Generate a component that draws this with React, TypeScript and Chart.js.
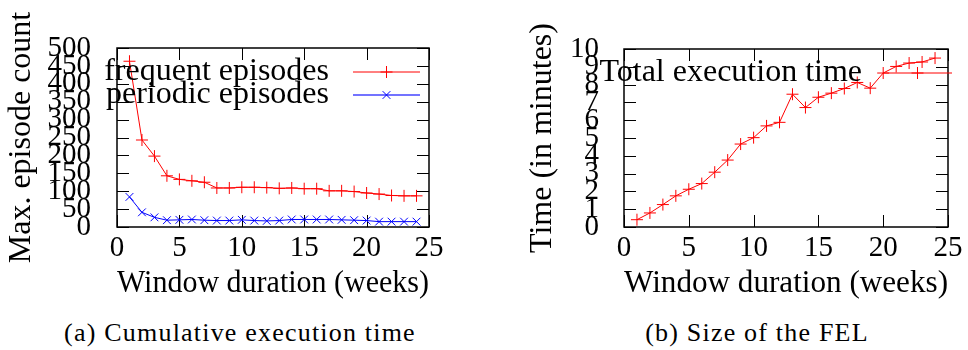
import React, { useEffect, useRef } from 'react';
import { Chart, registerables } from 'chart.js';

Chart.register(...registerables);

const FONT = "'Liberation Serif', 'DejaVu Serif', serif";

const weeks = [1, 2, 3, 4, 5, 6, 7, 8, 9, 10, 11, 12, 13, 14, 15, 16, 17, 18, 19, 20, 21, 22, 23, 24];
const frequentEpisodes = [463, 243, 198, 143, 133, 129, 125, 109, 109, 111, 111, 110, 108, 109, 107, 107, 101, 101, 99, 95, 92, 88, 87, 87];
const periodicEpisodes = [84, 41, 27, 19, 20, 21, 19, 18, 18, 20, 18, 17, 18, 21, 21, 21, 21, 20, 19, 18, 15, 15, 15, 15];
const totalTime = [0.41, 0.79, 1.26, 1.75, 2.12, 2.44, 3.08, 3.76, 4.66, 5.02, 5.68, 5.88, 7.46, 6.71, 7.29, 7.52, 7.78, 8.12, 7.8, 8.65, 9.02, 9.21, 9.27, 9.49];

const xTitle = 'Window duration (weeks)';
const leftYTitle = 'Max. episode count';
const rightYTitle = 'Time (in minutes)';
const captionA = '(a) Cumulative execution time';
const captionB = '(b) Size of the FEL';

function drawMarker(ctx: CanvasRenderingContext2D, style: string, x: number, y: number, r: number) {
  ctx.beginPath();
  if (style === 'crossRot') {
    const d = r * Math.SQRT1_2;
    ctx.moveTo(x - d, y - d); ctx.lineTo(x + d, y + d);
    ctx.moveTo(x - d, y + d); ctx.lineTo(x + d, y - d);
  } else {
    ctx.moveTo(x - r, y); ctx.lineTo(x + r, y);
    ctx.moveTo(x, y - r); ctx.lineTo(x, y + r);
  }
  ctx.stroke();
}

const framePlugin = {
  id: 'gnuFrame',
  beforeDatasetsDraw(chart: any) {
    const { ctx, chartArea: a, scales } = chart;
    const tl = 12;
    ctx.save();
    ctx.strokeStyle = '#000';
    ctx.lineWidth = 1;
    const seg = (x1: number, y1: number, x2: number, y2: number) => {
      ctx.beginPath(); ctx.moveTo(x1, y1); ctx.lineTo(x2, y2); ctx.stroke();
    };
    scales.y.ticks.forEach((t: any) => {
      const p = Math.round(scales.y.getPixelForValue(t.value)) + 0.5;
      seg(a.left, p, a.left + tl, p);
      seg(a.right - tl, p, a.right, p);
    });
    scales.x.ticks.forEach((t: any) => {
      const p = Math.round(scales.x.getPixelForValue(t.value)) + 0.5;
      seg(p, a.bottom, p, a.bottom - tl);
      seg(p, a.top, p, a.top + tl);
    });
    ctx.lineWidth = 1.5;
    ctx.strokeRect(a.left, a.top, a.right - a.left, a.bottom - a.top);
    ctx.restore();
  },
};

const legendPlugin = {
  id: 'gnuLegend',
  afterDatasetsDraw(chart: any, _args: any, opts: any) {
    const { ctx } = chart;
    ctx.save();
    ctx.font = `32px ${FONT}`;
    ctx.textAlign = 'right';
    ctx.textBaseline = 'middle';
    chart.data.datasets.forEach((ds: any, i: number) => {
      const y = opts.y0 + i * opts.dy;
      ctx.fillStyle = '#000';
      ctx.fillText(ds.label, opts.textRight, y);
      ctx.strokeStyle = ds.legendColor || ds.borderColor;
      ctx.lineWidth = ds.legendWidth || 1;
      ctx.beginPath(); ctx.moveTo(opts.x1, y); ctx.lineTo(opts.x2, y); ctx.stroke();
      ctx.strokeStyle = ds.borderColor;
      ctx.lineWidth = 1;
      drawMarker(ctx, ds.pointStyle, (opts.x1 + opts.x2) / 2, y, ds.pointRadius);
    });
    ctx.restore();
  },
};

function makeOptions(p: {
  yMax: number; yStep: number; yTitle: string; yWidth: number; yPad: number; yTitlePad: number;
  layout: any; legend: any;
}) {
  const tickFont = { family: FONT, size: 29, lineHeight: 1.2 };
  const titleFont = { family: FONT, size: 32, lineHeight: 1.05 };
  return {
    responsive: false,
    animation: false as const,
    layout: { padding: p.layout },
    plugins: {
      legend: { display: false },
      tooltip: { enabled: false },
      gnuLegend: p.legend,
    },
    scales: {
      x: {
        type: 'linear' as const,
        min: 0,
        max: 25,
        ticks: { stepSize: 5, font: tickFont, color: '#000', padding: 4, maxRotation: 0, autoSkip: false },
        grid: { display: false, drawTicks: false },
        border: { display: false },
        title: { display: true, text: xTitle, font: titleFont, color: '#000', padding: { top: 0, bottom: 0 } },
        afterFit(s: any) { s.height = 73; },
      },
      y: {
        type: 'linear' as const,
        min: 0,
        max: p.yMax,
        ticks: { stepSize: p.yStep, font: tickFont, color: '#000', padding: p.yPad, autoSkip: false },
        grid: { display: false, drawTicks: false },
        border: { display: false },
        title: { display: true, text: p.yTitle, font: titleFont, color: '#000', padding: { top: p.yTitlePad, bottom: 0 } },
        afterFit(s: any) { s.width = p.yWidth; },
      },
    },
  };
}

function LeftChart() {
  const ref = useRef<HTMLCanvasElement>(null);
  useEffect(() => {
    const chart = new Chart(ref.current!, {
      type: 'line',
      data: {
        datasets: [
          {
            label: 'frequent episodes',
            data: weeks.map((w, i) => ({ x: w, y: frequentEpisodes[i] })),
            borderColor: '#ff0000', borderWidth: 1, pointStyle: 'cross', pointRadius: 6,
            pointBorderColor: '#ff0000', pointBorderWidth: 1, fill: false, tension: 0,
          } as any,
          {
            label: 'periodic episodes',
            data: weeks.map((w, i) => ({ x: w, y: periodicEpisodes[i] })),
            borderColor: '#0000ff', borderWidth: 1, pointStyle: 'crossRot', pointRadius: 5.5,
            pointBorderColor: '#0000ff', pointBorderWidth: 1, fill: false, tension: 0,
            legendColor: 'rgba(0,0,255,0.55)', legendWidth: 2,
          } as any,
        ],
      },
      options: makeOptions({
        yMax: 500, yStep: 50, yTitle: leftYTitle, yWidth: 117, yPad: 26, yTitlePad: 5,
        layout: { left: 0, top: 48, right: 55, bottom: 0 },
        legend: { textRight: 329, y0: 72, dy: 23, x1: 353, x2: 420 },
      }) as any,
      plugins: [framePlugin, legendPlugin],
    });
    return () => chart.destroy();
  }, []);
  return <canvas ref={ref} width={484} height={300} style={{ position: 'absolute', left: 0, top: 0, width: 484, height: 300 }} />;
}

function RightChart() {
  const ref = useRef<HTMLCanvasElement>(null);
  useEffect(() => {
    const chart = new Chart(ref.current!, {
      type: 'line',
      data: {
        datasets: [
          {
            label: 'Total execution time',
            data: weeks.map((w, i) => ({ x: w, y: totalTime[i] })),
            borderColor: '#ff0000', borderWidth: 1, pointStyle: 'cross', pointRadius: 6,
            pointBorderColor: '#ff0000', pointBorderWidth: 1, fill: false, tension: 0,
          } as any,
        ],
      },
      options: makeOptions({
        yMax: 10, yStep: 1, yTitle: rightYTitle, yWidth: 140, yPad: 25, yTitlePad: 42,
        layout: { left: 0, top: 49, right: 20, bottom: 0 },
        legend: { textRight: 378, y0: 73, dy: 23, x1: 399, x2: 468 },
      }) as any,
      plugins: [framePlugin, legendPlugin],
    });
    return () => chart.destroy();
  }, []);
  return <canvas ref={ref} width={484} height={300} style={{ position: 'absolute', left: 484, top: 0, width: 484, height: 300 }} />;
}

const captionStyle: React.CSSProperties = {
  position: 'absolute', top: 318, width: 440, textAlign: 'center',
  fontFamily: FONT, fontSize: 26, lineHeight: '30px', letterSpacing: '1.2px', color: '#000', whiteSpace: 'nowrap',
};

export default function App() {
  return (
    <div style={{ position: 'absolute', left: 0, top: 0, width: 968, height: 350, background: '#fff', overflow: 'hidden' }}>
      <LeftChart />
      <RightChart />
      <div style={{ ...captionStyle, left: 240 - 220 }}>{captionA}</div>
      <div style={{ ...captionStyle, left: 757 - 220 }}>{captionB}</div>
    </div>
  );
}
